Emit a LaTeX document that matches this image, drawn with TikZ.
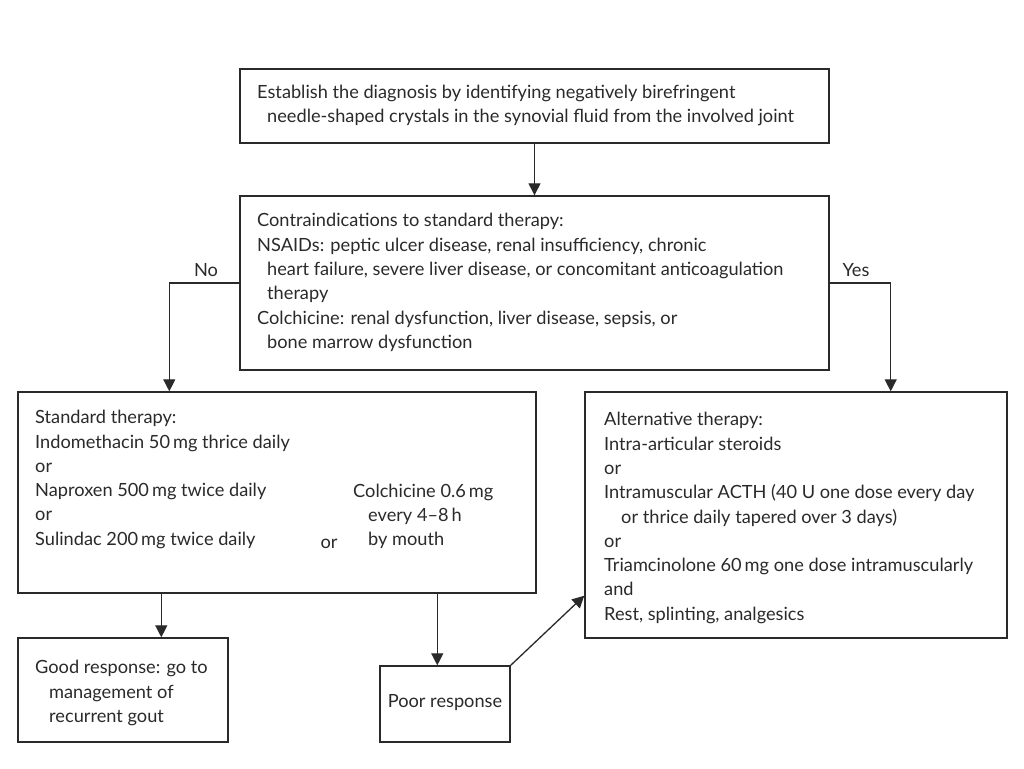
\documentclass[tikz,border=0pt]{standalone}
\usepackage{fontspec}
\setmainfont{Lato}
\usetikzlibrary{arrows.meta}
\definecolor{ink}{HTML}{2A2A2A}
\begin{document}
\begin{tikzpicture}[x=1pt,y=-1pt,
  box/.style={draw=ink,line width=1.4pt,inner sep=0pt},
  txt/.style={anchor=west,align=left,inner sep=0pt,text=ink,font=\fontsize{18.2}{24.3}\selectfont},
  lbl/.style={inner sep=0pt,text=ink,font=\fontsize{18.2}{24.3}\selectfont},
  arr/.style={draw=ink,line width=1.3pt,-{Triangle[length=12pt,width=12pt]}}]
\useasboundingbox (0,0) rectangle (1024,768);
\fill[white] (0,0) rectangle (1024,768);
% boxes
\node[box,minimum width=589pt,minimum height=74pt] (top) at (534.5,106) {};
\node[box,minimum width=589pt,minimum height=174pt] (contra) at (534.5,283) {};
\node[box,minimum width=518pt,minimum height=201pt] (std) at (277,492.5) {};
\node[box,minimum width=422pt,minimum height=246pt] (alt) at (796,515) {};
\node[box,minimum width=210pt,minimum height=104pt] (good) at (123,690) {};
\node[box,minimum width=130pt,minimum height=76pt] (poor) at (445,704) {};
% texts
\node[txt] (ttop) at (257,105.5) {Establish the diagnosis by identifying negatively birefringent\\\hspace*{10pt}needle-shaped crystals in the synovial fluid from the involved joint};
\node[txt] (tcontra) at (257,282.5) {Contraindications to standard therapy:\\NSAIDs: peptic ulcer disease, renal insufficiency, chronic\\\hspace*{10pt}heart failure, severe liver disease, or concomitant anticoagulation\\\hspace*{10pt}therapy\\Colchicine: renal dysfunction, liver disease, sepsis, or\\\hspace*{10pt}bone marrow dysfunction};
\node[txt] (tstd) at (35,479.5) {Standard therapy:\\Indomethacin 50\,mg thrice daily\\or\\Naproxen 500\,mg twice daily\\or\\Sulindac 200\,mg twice daily};
\node[txt] (tcol) at (353,516.5) {Colchicine 0.6\,mg\\\hspace*{15pt}every 4--8\,h\\\hspace*{15pt}by mouth};
\node[lbl] (tor) at (329,544) {or};
\node[txt] (talt) at (604,518) {Alternative therapy:\\Intra-articular steroids\\or\\Intramuscular ACTH (40 U one dose every day\\\hspace*{17pt}or thrice daily tapered over 3 days)\\or\\Triamcinolone 60\,mg one dose intramuscularly\\and\\Rest, splinting, analgesics};
\node[txt] (tgood) at (35,693) {Good response: go to\\\hspace*{14pt}management of\\\hspace*{14pt}recurrent gout};
\node[lbl] (tpoor) at (445,703) {Poor response};
\node[lbl] (no) at (206,270) {No};
\node[lbl] (yes) at (856,270) {Yes};
% connectors
\draw[arr] (top) -- (contra);
\draw[arr] (contra.west) -| ([xshift=152pt]std.north west);
\draw[arr] (contra.east) -| ([xshift=-117pt]alt.north east);
\draw[arr] ([xshift=144pt]std.south west) -- ([xshift=144pt]good.north west);
\draw[arr] ([xshift=420pt]std.south west) -- ([xshift=58pt]poor.north west);
\draw[arr] (poor.north east) -- ([yshift=43pt]alt.south west);
\end{tikzpicture}
\end{document}
